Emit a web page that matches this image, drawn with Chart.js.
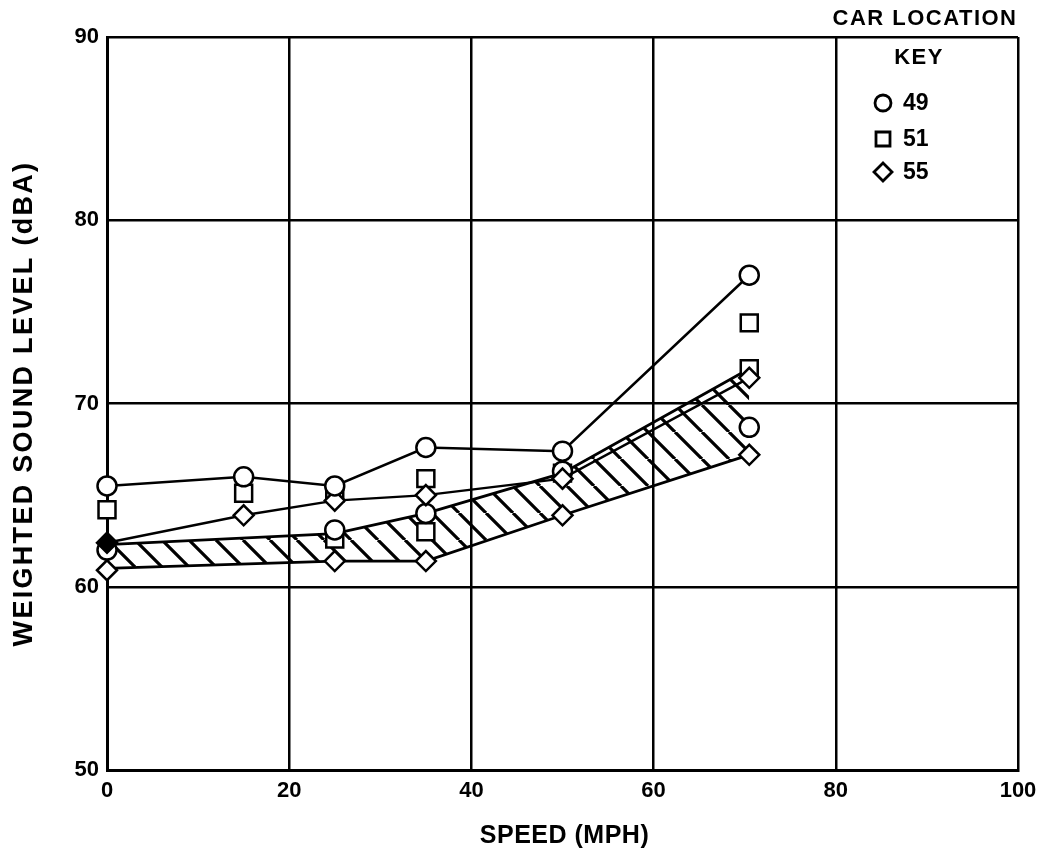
<!DOCTYPE html>
<html>
<head>
<meta charset="utf-8">
<script src="https://cdn.jsdelivr.net/npm/chart.js@4/dist/chart.umd.min.js"></script>
<style>
  html, body { margin: 0; padding: 0; background: #fff; }
  #wrap { position: relative; width: 1039px; height: 860px; }
</style>
</head>
<body>
<div id="wrap"><canvas id="c" width="1039" height="860"></canvas></div>
<script>
// ---- Data ----
const xTicks = [0, 20, 40, 60, 80, 100];
const yTicks = [50, 60, 70, 80, 90];

const xTitle = 'SPEED (MPH)';
const yTitle = 'WEIGHTED SOUND LEVEL (dBA)';
const keyTitle1 = 'CAR LOCATION';
const keyTitle2 = 'KEY';

const runSpeeds = [0, 15, 25, 35, 50, 70.5];
const car49Run = [65.5, 66.0, 65.5, 67.6, 67.4, 77.0];
const car55Run = [62.4, 63.9, 64.7, 65.0, 65.9, 71.4];

const car49OtherX = [0, 25, 35, 50, 70.5];
const car49Other = [62.0, 63.1, 64.0, 66.3, 68.7];

const car51X = [0, 15, 25, 25, 35, 35, 50, 70.5, 70.5];
const car51 = [64.2, 65.1, 65.1, 62.6, 65.9, 63.0, 66.2, 74.4, 71.9];

const car55OtherX = [0, 25, 35, 50, 70.5];
const car55Other = [60.9, 61.4, 61.4, 63.9, 67.2];

const bandX = [0, 25, 35, 50, 70.5];
const bandUpper = [62.3, 62.9, 64.0, 66.2, 71.9];
const bandLower = [61.0, 61.4, 61.4, 63.9, 67.2];

const keyLabels = ['49', '51', '55'];
const keyStyles = ['circle', 'rect', 'rectRot'];

// ---- helpers ----
const pts = (xs, ys) => xs.map((x, i) => ({ x: x, y: ys[i] }));
const FONT = "'Liberation Sans', Arial, Helvetica, sans-serif";

function hatchPattern() {
  const s = 27;
  const t = document.createElement('canvas');
  t.width = s; t.height = s;
  const g = t.getContext('2d');
  g.strokeStyle = '#000';
  g.lineWidth = 3.2;
  g.beginPath();
  for (let k = -1; k <= 1; k++) {
    g.moveTo(k * s, 0);
    g.lineTo(k * s + s, s);
  }
  g.stroke();
  return g.createPattern(t, 'repeat');
}

const markerCommon = { borderColor: '#000', borderWidth: 2.5, pointBorderColor: '#000', pointBorderWidth: 2.5, pointBackgroundColor: '#fff', tension: 0, clip: false };

const textPlugin = {
  id: 'textPlugin',
  afterDraw(chart) {
    const ctx = chart.ctx;
    const a = chart.chartArea;
    ctx.save();
    ctx.fillStyle = '#000';
    ctx.textBaseline = 'middle';
    ctx.textAlign = 'center';

    // axis titles
    ctx.font = "bold 25px " + FONT;
    try { ctx.letterSpacing = '0.5px'; } catch (e) {}
    ctx.fillText(xTitle, (a.left + a.right) / 2 + 2, 836);

    ctx.save();
    ctx.translate(25, (a.top + a.bottom) / 2);
    ctx.rotate(-Math.PI / 2);
    ctx.font = "bold 27px " + FONT;
    try { ctx.letterSpacing = '2.3px'; } catch (e) {}
    ctx.fillText(yTitle, 0, 0);
    ctx.restore();

    // key
    ctx.font = "bold 22px " + FONT;
    try { ctx.letterSpacing = '1.5px'; } catch (e) {}
    ctx.fillText(keyTitle1, 925, 19);
    ctx.fillText(keyTitle2, 919, 58);
    ctx.textAlign = 'left';
    try { ctx.letterSpacing = '0px'; } catch (e) {}
    ctx.font = "bold 23px " + FONT;
    const ys = [103, 139, 172];
    for (let i = 0; i < keyLabels.length; i++) {
      const y = ys[i], x = 883;
      ctx.lineWidth = 2.8;
      ctx.strokeStyle = '#000';
      ctx.beginPath();
      if (keyStyles[i] === 'circle') {
        ctx.arc(x, y, 8, 0, Math.PI * 2);
      } else if (keyStyles[i] === 'rect') {
        ctx.rect(x - 7, y - 7, 14, 14);
      } else {
        ctx.moveTo(x, y - 9); ctx.lineTo(x + 9, y); ctx.lineTo(x, y + 9); ctx.lineTo(x - 9, y); ctx.closePath();
      }
      ctx.stroke();
      ctx.fillText(keyLabels[i], 903, y + 1);
    }
    ctx.restore();
  }
};

const ctx = document.getElementById('c').getContext('2d');
new Chart(ctx, {
  type: 'scatter',
  data: {
    datasets: [
      Object.assign({}, markerCommon, { label: '49', data: pts(runSpeeds, car49Run), showLine: true, pointStyle: 'circle', pointRadius: 9.5, order: 1 }),
      Object.assign({}, markerCommon, { label: '55', data: pts(runSpeeds, car55Run), showLine: true, pointStyle: 'rectRot', pointRadius: 10,
        pointBackgroundColor: ['#000', '#fff', '#fff', '#fff', '#fff', '#fff'], order: 2 }),
      Object.assign({}, markerCommon, { label: '49', data: pts(car49OtherX, car49Other), showLine: false, pointStyle: 'circle', pointRadius: 9.5, order: 3 }),
      Object.assign({}, markerCommon, { label: '51', data: pts(car51X, car51), showLine: false, pointStyle: 'rect', pointRadius: 12, order: 4 }),
      Object.assign({}, markerCommon, { label: '55', data: pts(car55OtherX, car55Other), showLine: false, pointStyle: 'rectRot', pointRadius: 10, order: 5 }),
      { label: 'band upper', data: pts(bandX, bandUpper), showLine: true, borderColor: '#000', borderWidth: 2.8, pointRadius: 0, tension: 0,
        fill: '+1', backgroundColor: hatchPattern(), order: 6 },
      { label: 'band lower', data: pts(bandX, bandLower), showLine: true, borderColor: '#000', borderWidth: 2.8, pointRadius: 0, tension: 0,
        fill: false, order: 7 }
    ]
  },
  options: {
    responsive: false,
    animation: false,
    events: [],
    layout: { padding: { top: 37, right: 21, left: 0, bottom: 0 } },
    plugins: { legend: { display: false }, tooltip: { enabled: false } },
    scales: {
      x: {
        type: 'linear', min: 0, max: 100,
        afterBuildTicks: (s) => { s.ticks = xTicks.map(v => ({ value: v })); },
        afterFit: (s) => { s.height = 90; s.paddingLeft = 0; s.paddingRight = 0; },
        grid: { color: '#000', lineWidth: 2.5, drawTicks: false },
        border: { color: '#000', width: 3 },
        ticks: { color: '#000', padding: 8, font: { family: FONT, size: 22, weight: 'bold' } },
        title: { display: false }
      },
      y: {
        type: 'linear', min: 50, max: 90,
        afterBuildTicks: (s) => { s.ticks = yTicks.map(v => ({ value: v })); },
        afterFit: (s) => { s.width = 107; s.paddingTop = 0; s.paddingBottom = 0; },
        grid: { color: '#000', lineWidth: 2.5, drawTicks: false },
        border: { color: '#000', width: 3 },
        ticks: { color: '#000', padding: 8, font: { family: FONT, size: 22, weight: 'bold' } },
        title: { display: false }
      }
    }
  },
  plugins: [textPlugin]
});
</script>
</body>
</html>
